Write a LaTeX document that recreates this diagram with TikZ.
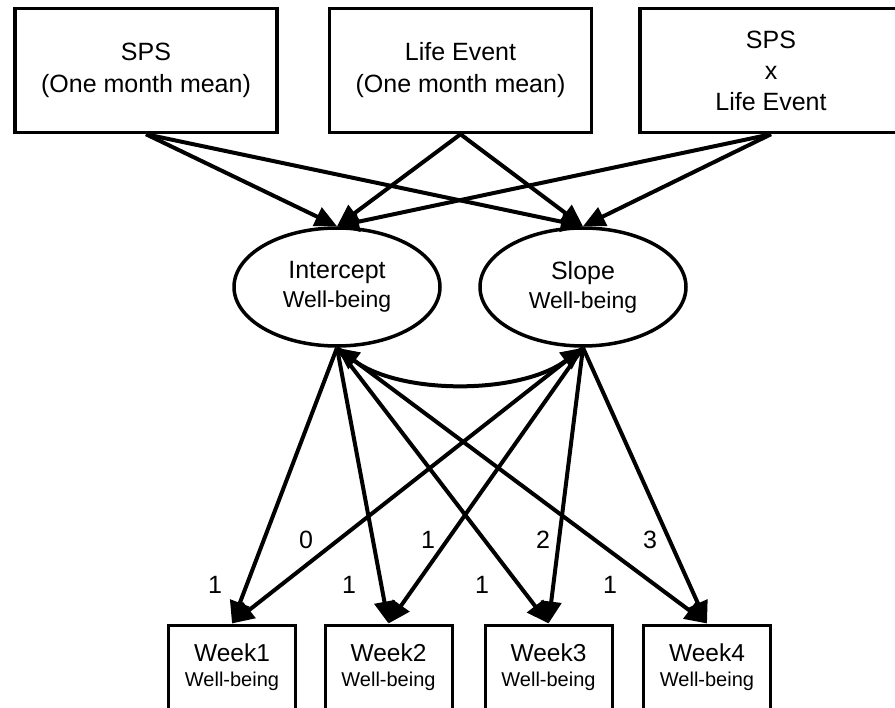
\documentclass[tikz,border=0pt]{standalone}
\usepackage{fontspec}
\setmainfont{Liberation Sans}
\usetikzlibrary{arrows.meta,shapes.geometric}
\begin{document}
\begin{tikzpicture}[x=1pt,y=-1pt,
  topbox/.style={draw,line width=3.5pt,inner sep=0pt,align=center,minimum width=262pt,minimum height=124pt,font=\fontsize{25}{32}\selectfont},
  lat/.style={draw,ellipse,line width=3.5pt,inner sep=0pt,align=center,minimum width=206pt,minimum height=118pt,font=\fontsize{25}{29}\selectfont},
  obs/.style={draw,line width=3pt,inner sep=0pt,align=center,minimum width=127pt,minimum height=85pt,font=\fontsize{24.5}{25}\selectfont},
  arr/.style={line width=4pt,-{Triangle[length=22pt,width=20pt]}},
  lbl/.style={font=\fontsize{25}{25}\selectfont,inner sep=0pt}
]
\useasboundingbox (0,0) rectangle (895,708);
% top boxes
\node[topbox] (sps) at (146,70.5) {SPS\\(One month mean)};
\node[topbox] (le) at (460.5,70.5) {Life Event\\(One month mean)};
\node[topbox,font=\fontsize{25}{31}\selectfont] (int3) at (771,70.5) {SPS\\x\\Life Event};
% latent
\node[lat] (icp) at (337,287) {Intercept\\{\fontsize{23}{23}\selectfont Well-being}};
\node[lat] (slp) at (583,287) {Slope\\{\fontsize{23}{23}\selectfont Well-being}};
% observed
\node[obs] (w1) at (232,667.5) {Week1\\{\fontsize{20}{20}\selectfont Well-being}};
\node[obs] (w2) at (388.5,667.5) {Week2\\{\fontsize{20}{20}\selectfont Well-being}};
\node[obs] (w3) at (548.5,667.5) {Week3\\{\fontsize{20}{20}\selectfont Well-being}};
\node[obs] (w4) at (707,667.5) {Week4\\{\fontsize{20}{20}\selectfont Well-being}};
% regressions
\foreach \s in {sps,le,int3}{
  \draw[arr] (\s.south) -- (icp.north);
  \draw[arr] (\s.south) -- (slp.north);
}
% loadings
\foreach \w in {w1,w2,w3,w4}{
  \draw[arr] (icp.south) -- (\w.north);
  \draw[arr] (slp.south) -- (\w.north);
}
% covariance
\draw[line width=4pt,{Triangle[length=22pt,width=20pt]}-{Triangle[length=22pt,width=20pt]}]
  (icp.south) .. controls (400,395) and (520,395) .. (slp.south);
% labels
\node[lbl] (s0) at (306,540) {0};
\node[lbl] (s1) at (428,540) {1};
\node[lbl] (s2) at (543,540) {2};
\node[lbl] (s3) at (650,540) {3};
\node[lbl] (i1) at (215,585) {1};
\node[lbl] (i2) at (349,585) {1};
\node[lbl] (i3) at (482,585) {1};
\node[lbl] (i4) at (610,585) {1};
\end{tikzpicture}
\end{document}
